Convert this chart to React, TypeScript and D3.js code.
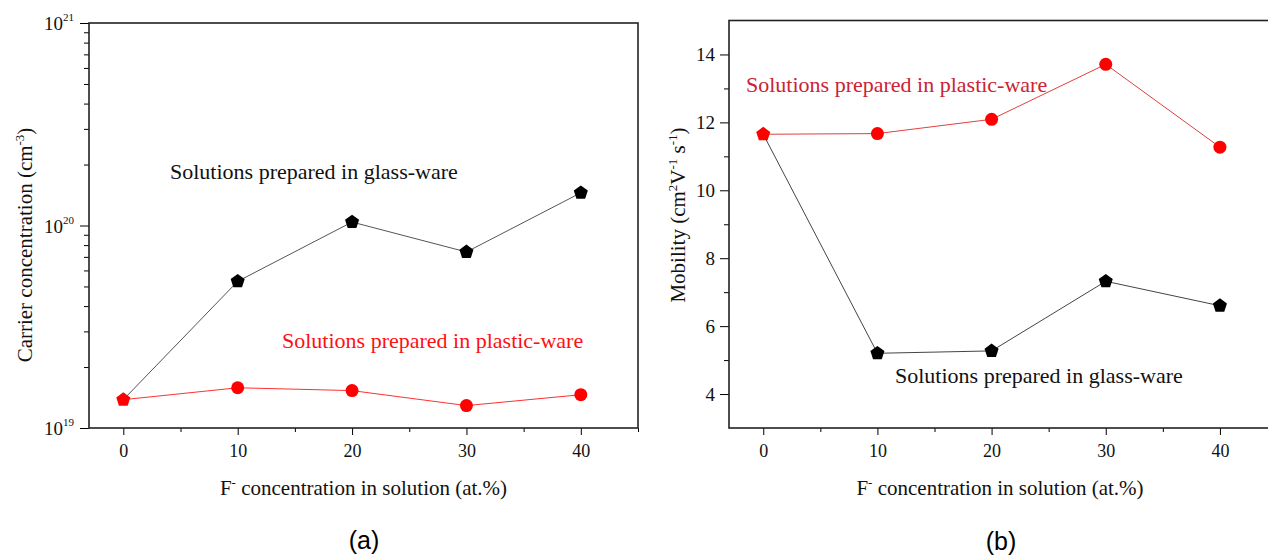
import React, { useEffect, useRef } from 'react';
import * as d3 from 'd3';

// F- concentration (at.%)
const fConc = [0, 10, 20, 30, 40];
// carrier concentration (cm^-3)
const carrierGlass = [1.38e19, 5.3e19, 1.04e20, 7.4e19, 1.45e20];
const carrierPlastic = [1.38e19, 1.58e19, 1.53e19, 1.29e19, 1.46e19];
// mobility (cm2 V-1 s-1)
const mobilityGlass = [11.65, 5.2, 5.27, 7.32, 6.6];
const mobilityPlastic = [11.65, 11.67, 12.09, 13.71, 11.27];

const xMajorTicks = [0, 10, 20, 30, 40];
const xMinorTicks = [5, 15, 25, 35, 45];
const carrierMajorTicks = [1e19, 1e20, 1e21];
const carrierExponents = ['19', '20', '21'];
const mobilityMajorTicks = [4, 6, 8, 10, 12, 14];
const mobilityMinorTicks = [5, 7, 9, 11, 13];

const serif = '"Liberation Serif", "DejaVu Serif", serif';
const sans = '"Liberation Sans", Arial, sans-serif';

// pentagon symbol, point up
const pentagon = {
  draw(ctx: any, size: number) {
    const r = Math.sqrt(size / 2.38);
    for (let i = 0; i < 5; i++) {
      const a = -Math.PI / 2 + (i * 2 * Math.PI) / 5;
      const px = r * Math.cos(a);
      const py = r * Math.sin(a);
      if (i === 0) ctx.moveTo(px, py);
      else ctx.lineTo(px, py);
    }
    ctx.closePath();
  },
};

const App = () => {
  const ref = useRef<SVGSVGElement | null>(null);

  useEffect(() => {
    document.body.style.margin = '0';
    const svg = d3.select(ref.current);
    svg.selectAll('*').remove();

    const xAxisBottom = (g: any, x: any, bottom: number) => {
      g.append('g')
        .attr('transform', `translate(0,${bottom})`)
        .call(d3.axisBottom(x).tickValues(xMajorTicks).tickSize(7).tickSizeOuter(0).tickPadding(9))
        .call((s: any) => s.select('.domain').remove())
        .call((s: any) => s.selectAll('text').attr('font-family', serif).attr('font-size', 18).attr('fill', '#111'));
      g.append('g')
        .attr('transform', `translate(0,${bottom})`)
        .call(d3.axisBottom(x).tickValues(xMinorTicks).tickSize(4).tickSizeOuter(0).tickFormat(() => ''))
        .call((s: any) => s.select('.domain').remove());
    };

    const drawSeries = (g: any, x: any, y: any, vals: number[], lineColor: string) => {
      const line = d3.line<number>().x((d, i) => x(fConc[i])).y(d => y(d));
      g.append('path')
        .datum(vals)
        .attr('fill', 'none')
        .attr('stroke', lineColor)
        .attr('stroke-width', 1)
        .attr('d', line);
    };

    const drawPentagons = (g: any, x: any, y: any, vals: number[], other: number[]) => {
      g.selectAll(null)
        .data(vals)
        .enter()
        .append('path')
        .attr('transform', (d: number, i: number) => `translate(${x(fConc[i])},${y(d)})`)
        .attr('d', d3.symbol().type(pentagon as any).size(130)())
        .attr('fill', (d: number, i: number) => (d === other[i] ? '#ff0000' : '#000'));
    };

    const drawCircles = (g: any, x: any, y: any, vals: number[], other: number[]) => {
      const pts = vals.map((v, i) => ({ x: fConc[i], v, same: v === other[i] })).filter(p => !p.same);
      g.selectAll(null)
        .data(pts)
        .enter()
        .append('circle')
        .attr('cx', (d: any) => x(d.x))
        .attr('cy', (d: any) => y(d.v))
        .attr('r', 6.5)
        .attr('fill', '#ff0000');
    };

    const xLabel = (g: any, cx: number, yPos: number) => {
      const xl = g.append('text')
        .attr('x', cx).attr('y', yPos)
        .attr('text-anchor', 'middle')
        .attr('font-family', serif).attr('font-size', 21).attr('fill', '#111');
      xl.append('tspan').text('F');
      xl.append('tspan').attr('dy', -8).attr('font-size', 13).text('-');
      xl.append('tspan').attr('dy', 8).text(' concentration in solution (at.%)');
    };

    // ---------- panel (a) ----------
    {
      const left = 89, right = 638, top = 23, bottom = 428;
      const x = d3.scaleLinear().domain([-3, 45]).range([left, right]);
      const y = d3.scaleLog().domain([1e19, 1e21]).range([bottom, top]);
      const g = svg.append('g');

      xAxisBottom(g, x, bottom);

      const minor = y.ticks().filter(v => !carrierMajorTicks.includes(v));
      g.append('g')
        .attr('transform', `translate(${left},0)`)
        .call(d3.axisLeft(y).tickValues(minor).tickSize(5).tickFormat(() => ''))
        .call((s: any) => s.select('.domain').remove());
      g.append('g')
        .attr('transform', `translate(${left},0)`)
        .call(d3.axisLeft(y).tickValues(carrierMajorTicks).tickSize(9).tickFormat(() => ''))
        .call((s: any) => s.select('.domain').remove());

      carrierMajorTicks.forEach((v, i) => {
        const t = g.append('text')
          .attr('x', left - 15)
          .attr('y', y(v) + 7)
          .attr('text-anchor', 'end')
          .attr('font-family', serif)
          .attr('font-size', 19)
          .attr('fill', '#111');
        t.append('tspan').text('10');
        t.append('tspan').attr('dy', -9).attr('font-size', 11).text(carrierExponents[i]);
      });

      g.append('rect')
        .attr('x', left).attr('y', top)
        .attr('width', right - left).attr('height', bottom - top)
        .attr('fill', 'none').attr('stroke', '#222').attr('stroke-width', 1.6);

      drawSeries(g, x, y, carrierGlass, '#555');
      drawSeries(g, x, y, carrierPlastic, '#ff3030');
      drawCircles(g, x, y, carrierPlastic, carrierGlass);
      drawPentagons(g, x, y, carrierGlass, carrierPlastic);

      g.append('text')
        .attr('x', 170).attr('y', 179)
        .attr('font-family', serif).attr('font-size', 22).attr('fill', '#111')
        .text('Solutions prepared in glass-ware');
      g.append('text')
        .attr('x', 282).attr('y', 348)
        .attr('font-family', serif).attr('font-size', 22).attr('fill', '#ff1010')
        .text('Solutions prepared in plastic-ware');

      const yl = g.append('text')
        .attr('transform', `translate(32,245) rotate(-90)`)
        .attr('text-anchor', 'middle')
        .attr('font-family', serif).attr('font-size', 21).attr('fill', '#111');
      yl.append('tspan').text('Carrier concentration (cm');
      yl.append('tspan').attr('dy', -8).attr('font-size', 13).text('-3');
      yl.append('tspan').attr('dy', 8).text(')');

      xLabel(g, (left + right) / 2, 495);

      g.append('text')
        .attr('x', 364).attr('y', 549)
        .attr('text-anchor', 'middle')
        .attr('font-family', sans).attr('font-size', 25).attr('fill', '#000')
        .text('(a)');
    }

    // ---------- panel (b) ----------
    {
      const left = 729, right = 1277, top = 20.5, bottom = 428;
      const x = d3.scaleLinear().domain([-3, 45]).range([left, right]);
      const y = d3.scaleLinear().domain([3, 15]).range([bottom, top]);
      const g = svg.append('g');

      xAxisBottom(g, x, bottom);

      g.append('g')
        .attr('transform', `translate(${left},0)`)
        .call(d3.axisLeft(y).tickValues(mobilityMinorTicks).tickSize(5).tickFormat(() => ''))
        .call((s: any) => s.select('.domain').remove());
      g.append('g')
        .attr('transform', `translate(${left},0)`)
        .call(d3.axisLeft(y).tickValues(mobilityMajorTicks).tickSize(9).tickPadding(5))
        .call((s: any) => s.select('.domain').remove())
        .call((s: any) => s.selectAll('text').attr('font-family', serif).attr('font-size', 19).attr('fill', '#111'));

      g.append('rect')
        .attr('x', left).attr('y', top)
        .attr('width', right - left).attr('height', bottom - top)
        .attr('fill', 'none').attr('stroke', '#222').attr('stroke-width', 1.6);

      drawSeries(g, x, y, mobilityGlass, '#444');
      drawSeries(g, x, y, mobilityPlastic, '#e04040');
      drawCircles(g, x, y, mobilityPlastic, mobilityGlass);
      drawPentagons(g, x, y, mobilityGlass, mobilityPlastic);

      g.append('text')
        .attr('x', 746).attr('y', 92)
        .attr('font-family', serif).attr('font-size', 22).attr('fill', '#cc2233')
        .text('Solutions prepared in plastic-ware');
      g.append('text')
        .attr('x', 895).attr('y', 383)
        .attr('font-family', serif).attr('font-size', 22).attr('fill', '#111')
        .text('Solutions prepared in glass-ware');

      const yl = g.append('text')
        .attr('transform', `translate(685,215) rotate(-90)`)
        .attr('text-anchor', 'middle')
        .attr('font-family', serif).attr('font-size', 21).attr('fill', '#111');
      yl.append('tspan').text('Mobility (cm');
      yl.append('tspan').attr('dy', -8).attr('font-size', 13).text('2');
      yl.append('tspan').attr('dy', 8).text('V');
      yl.append('tspan').attr('dy', -8).attr('font-size', 13).text('-1');
      yl.append('tspan').attr('dy', 8).text(' s');
      yl.append('tspan').attr('dy', -8).attr('font-size', 13).text('-1');
      yl.append('tspan').attr('dy', 8).text(')');

      xLabel(g, 1000, 495);

      g.append('text')
        .attr('x', 1001).attr('y', 550)
        .attr('text-anchor', 'middle')
        .attr('font-family', sans).attr('font-size', 25).attr('fill', '#000')
        .text('(b)');
    }
  }, []);

  return <svg ref={ref} width={1268} height={556} style={{ display: 'block', background: '#fff' }} />;
};

export default App;
